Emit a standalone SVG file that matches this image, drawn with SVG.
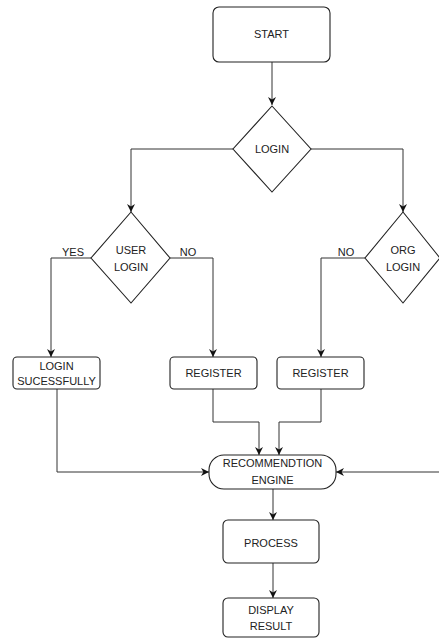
<svg xmlns="http://www.w3.org/2000/svg" width="439" height="639" viewBox="0 0 439 639">
<style>
.n{fill:#fff;stroke:#222;stroke-width:1.1}
.t{font-family:"Liberation Sans",Arial,sans-serif;font-size:11px;fill:#222;text-anchor:middle}
.c{fill:none;stroke:#333;stroke-width:1}
</style>
<defs>
<marker id="a" viewBox="0 0 10 10" refX="10" refY="5" markerWidth="8" markerHeight="8" markerUnits="userSpaceOnUse" orient="auto">
<path d="M0,0 L10,5 L0,10 L3,5 z" fill="#111"/>
</marker>
</defs>
<rect width="439" height="639" fill="#fff"/>
<g id="connectors">
<path class="c" d="M272,62 V105" marker-end="url(#a)"/>
<path class="c" d="M233,149 H131 V212" marker-end="url(#a)"/>
<path class="c" d="M311,149 H403 V212" marker-end="url(#a)"/>
<path class="c" d="M91,258 H51 V357" marker-end="url(#a)"/>
<path class="c" d="M170,258 H213 V357" marker-end="url(#a)"/>
<path class="c" d="M365,258 H321 V357" marker-end="url(#a)"/>
<path class="c" d="M213,389 V422 H259 V455" marker-end="url(#a)"/>
<path class="c" d="M321,389 V422 H279 V455" marker-end="url(#a)"/>
<path class="c" d="M57,389 V472 H209" marker-end="url(#a)"/>
<path class="c" d="M439,472 H336" marker-end="url(#a)"/>
<path class="c" d="M273,489 V520" marker-end="url(#a)"/>
<path class="c" d="M273,563 V598" marker-end="url(#a)"/>
<text class="t" x="73" y="256">YES</text>
<text class="t" x="188" y="256">NO</text>
<text class="t" x="346" y="256">NO</text>
</g>
<g id="start">
<rect class="n" x="213" y="7" width="117" height="55" rx="6"/>
<text class="t" x="271.5" y="38">START</text>
</g>
<g id="login">
<polygon class="n" points="272,106 311,149 272,192 233,149"/>
<text class="t" x="272" y="153">LOGIN</text>
</g>
<g id="user-login">
<polygon class="n" points="131,212 170,258 131,303 91,258"/>
<text class="t" x="131" y="254">USER</text>
<text class="t" x="131" y="271">LOGIN</text>
</g>
<g id="org-login">
<polygon class="n" points="403,212 440,258 403,303 365,258"/>
<text class="t" x="403" y="254">ORG</text>
<text class="t" x="403" y="271">LOGIN</text>
</g>
<g id="login-success">
<rect class="n" x="13" y="357" width="87" height="32" rx="4"/>
<text class="t" x="56.5" y="370">LOGIN</text>
<text class="t" x="56.5" y="385">SUCESSFULLY</text>
</g>
<g id="register1">
<rect class="n" x="170" y="357" width="87" height="32" rx="4"/>
<text class="t" x="213.5" y="377">REGISTER</text>
</g>
<g id="register2">
<rect class="n" x="277" y="357" width="87" height="32" rx="4"/>
<text class="t" x="320.5" y="377">REGISTER</text>
</g>
<g id="engine">
<rect class="n" x="209" y="455" width="127" height="34" rx="15"/>
<text class="t" x="272.5" y="467">RECOMMENDTION</text>
<text class="t" x="272.5" y="484">ENGINE</text>
</g>
<g id="process">
<rect class="n" x="223" y="520" width="96" height="43" rx="5"/>
<text class="t" x="271" y="547">PROCESS</text>
</g>
<g id="display">
<rect class="n" x="223" y="598" width="96" height="39" rx="5"/>
<text class="t" x="271" y="614">DISPLAY</text>
<text class="t" x="271" y="630">RESULT</text>
</g>
</svg>
